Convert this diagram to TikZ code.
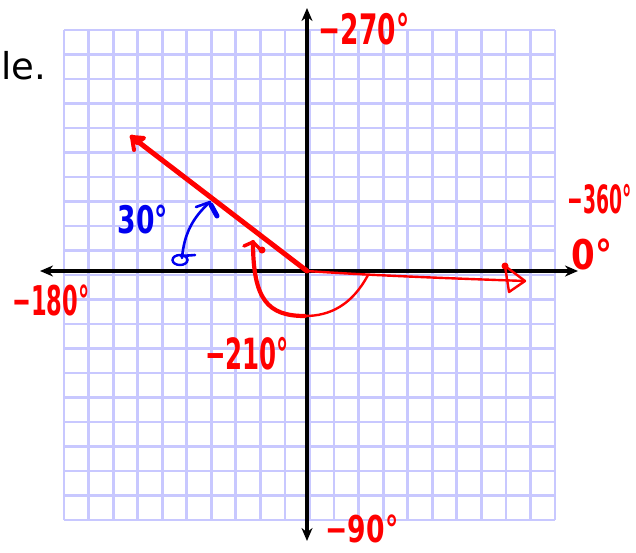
\documentclass[tikz,border=0pt]{standalone}
\usepackage{fontspec}
\setmainfont{DejaVu Sans}
\usetikzlibrary{arrows.meta}
\definecolor{gridc}{RGB}{200,200,255}
\definecolor{pen}{RGB}{255,0,0}
\definecolor{bpen}{RGB}{0,0,240}
\tikzset{
  gridline/.style={draw=gridc, line width=2.8pt},
  axis/.style={draw=black, line width=3.4pt, -{Stealth[length=13pt,width=11pt]}},
  redlab/.style={text=pen, inner sep=0pt, anchor=center, font=\bfseries},
  redthick/.style={draw=pen, line width=5pt, line cap=round, line join=round},
  redthin/.style={draw=pen, line width=2.4pt, line cap=round, line join=round},
  bluestroke/.style={draw=bpen, line width=2.6pt, line cap=round, line join=round},
}
\newcommand{\hw}[3]{\fontsize{#1}{#1}\selectfont\scalebox{#2}[1]{#3}}
\begin{document}
\begin{tikzpicture}[x=1pt,y=-1pt]
\useasboundingbox (0,0) rectangle (636,552);
\fill[white] (0,0) rectangle (636,552);
% grid
\foreach \i in {0,...,20}{
  \draw[gridline] ({64+24.55*\i},30) -- ({64+24.55*\i},520);
  \draw[gridline] (64,{30+24.5*\i}) -- (555,{30+24.5*\i});
}
% axes
\coordinate (O) at (307,271);
\coordinate (xl) at (40,271);
\coordinate (xr) at (578,271);
\coordinate (yt) at (307,8);
\coordinate (yb) at (307,541);
\draw[axis] (O) -- (xr);
\draw[axis] (O) -- (xl);
\draw[axis] (O) -- (yt);
\draw[axis] (O) -- (yb);
% top-left text fragment
\node[anchor=base west, inner sep=0pt, text=black] (le) at (1,79) {\fontsize{37}{37}\selectfont le.};
% terminal ray
\coordinate (rt) at (132,137);
\draw[redthick] (O) -- (rt);
\draw[redthick, line width=4pt] (134,150) -- (rt) -- (144,138) -- (137,143);
% thin red along x-axis
\coordinate (xe) at (525,281);
\draw[redthin] (O) .. controls (380,276) and (470,279) .. (xe);
\draw[redthin] (505,266) -- (xe) -- (509,292) -- cycle;
\fill[pen] (505,266) circle (3.5pt);
% -210 arc
\coordinate (a0) at (368,275);
\coordinate (a1) at (305,316);
\coordinate (a2) at (253,242);
\draw[redthin] (a0) .. controls (352,305) and (330,316) .. (a1);
\draw[redthick, line width=4.2pt] (a1) .. controls (268,316) and (253,300) .. (a2);
\draw[redthick, line width=3.5pt] (244,246) -- (a2) -- (262,251);
\fill[pen] (262,250) circle (3.5pt);
% blue 30 degree arc
\coordinate (bs) at (182,258);
\coordinate (bt) at (210,202);
\draw[bpen, line width=2.4pt] (180,260) ellipse (7.5pt and 5pt);
\draw[bluestroke] (181,256) -- (195,255);
\draw[bluestroke] (bs) .. controls (184,235) and (192,218) .. (bt);
\draw[bluestroke] (196,207) -- (bt);
\draw[bpen, line width=5pt, line cap=round] (211,205) -- (217,216);
% labels
\node[redlab] (l270) at (364,29) {\hw{42}{0.63}{−270°}};
\node[redlab] (l360) at (600,199.5) {\hw{39}{0.48}{−360°}};
\node[redlab] (l0) at (592,254) {\hw{41}{0.83}{0°}};
\node[redlab] (l180) at (51,300) {\hw{41}{0.55}{−180°}};
\node[redlab] (l210) at (247,354) {\hw{43}{0.57}{−210°}};
\node[redlab] (l90) at (362,529) {\hw{37}{0.72}{−90°}};
\node[redlab, text=bpen] (l30) at (143,219.5) {\hw{38}{0.70}{30°}};
\end{tikzpicture}
\end{document}
